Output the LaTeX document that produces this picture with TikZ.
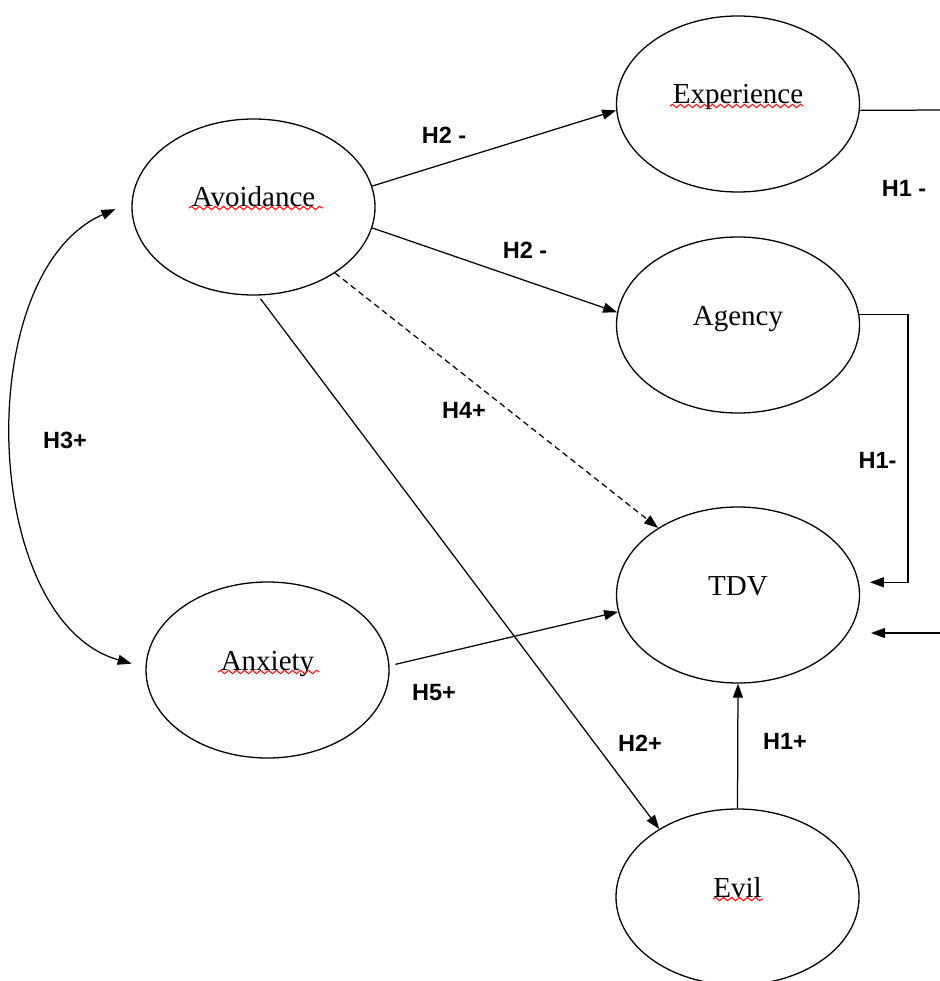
\documentclass[tikz,border=0pt]{standalone}
\usepackage{fontspec}
\setmainfont{Liberation Serif}
\newfontfamily\labfont{Liberation Sans}
\usetikzlibrary{arrows.meta,shapes.geometric,decorations.pathmorphing,calc}
\begin{document}
\begin{tikzpicture}[x=1pt,y=-1pt,
  ell/.style={draw, ellipse, line width=1.3pt, minimum width=243pt, minimum height=176pt,
    inner sep=0pt, text height=0pt, text depth=0pt, font=\fontsize{29}{30}\selectfont},
  lab/.style={font=\labfont\bfseries\fontsize{23.5}{25}\selectfont, inner sep=0pt},
  conn/.style={line width=1.25pt},
  arr/.style={conn, -{Triangle[length=14pt,width=10pt]}},
  darr/.style={conn, {Triangle[length=14pt,width=10pt]}-{Triangle[length=14pt,width=10pt]}},
  squig/.style={red, line width=1pt, decorate, decoration={snake, amplitude=1.7pt, segment length=8pt}}]
\path[use as bounding box, fill=white] (0,0) rectangle (939,981);

% latent variables
\node[ell] (avo)  at (253.5,207) {Avoidance};
\node[ell] (exp)  at (738,104)   {Experience};
\node[ell] (agy)  at (738,325)   {Agency};
\node[ell] (tdv)  at (738,595)   {TDV};
\node[ell] (anx)  at (267.5,670) {Anxiety};
\node[ell] (evil) at (737.5,897) {Evil};

% spell-check squiggles
\draw[squig] (189,208) -- (323,208);
\draw[squig] (670,106) -- (803,106);
\draw[squig] (218,672) -- (319,672);
\draw[squig] (713,899) -- (763,899);

% paths
\draw[arr] (avo.10) -- (exp.183);
\draw[arr] (avo.-10) -- (agy.174);
\draw[arr, dash pattern=on 6pt off 4pt] (avo.-39) -- (tdv.140);
\draw[arr, shorten <=4pt] (avo.-87) -- (evil.139);
\draw[arr, shorten <=6pt] (anx.2) -- (tdv.188);
\draw[arr] (evil.north) -- (tdv.south);
\draw[darr] ([xshift=-16pt]avo.181) .. controls +(-145,63) and +(-152,-43) .. ([xshift=-14pt]anx.177);

% right-hand connectors
\coordinate (tdvin) at ([xshift=11pt]tdv.6);
\draw[arr] (agy.5) -| ($(tdvin)+(38,0)$) -- (tdvin);
\coordinate (eR) at (945,110);
\draw[conn] (exp.-3) -- (eR);
\coordinate (tR) at (945,633);
\coordinate (tRtip) at (871,633);
\draw[arr] (tR) -- (tRtip);

% labels
\node[lab] (l1) at (444,135)   {H2 -};
\node[lab] (l2) at (525,250.5) {H2 -};
\node[lab] (l3) at (904,188)   {H1 -};
\node[lab] (l4) at (877.5,460) {H1-};
\node[lab] (l5) at (464,410.5) {H4+};
\node[lab] (l6) at (65,440)    {H3+};
\node[lab] (l7) at (434,693)   {H5+};
\node[lab] (l8) at (640,743)   {H2+};
\node[lab] (l9) at (785,741)   {H1+};
\end{tikzpicture}
\end{document}
